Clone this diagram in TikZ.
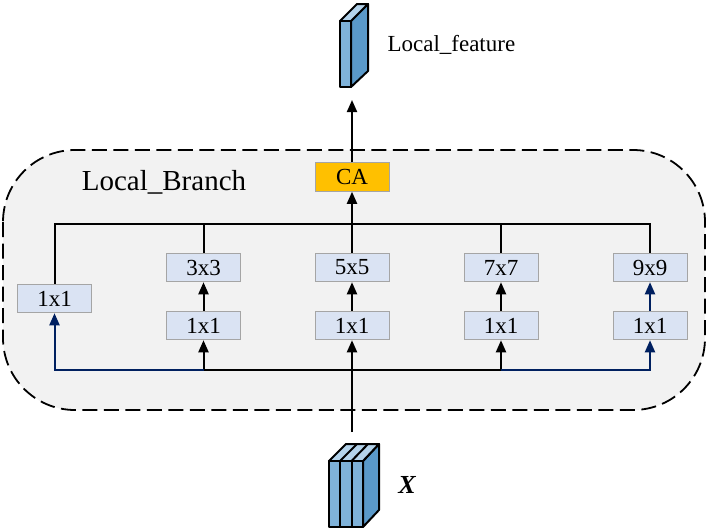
\documentclass[tikz,border=0pt]{standalone}
\usepackage{fontspec}
\setmainfont{Liberation Serif}
\usetikzlibrary{arrows.meta}
\definecolor{boxfill}{HTML}{DAE3F3}
\definecolor{boxline}{HTML}{A5A5A5}
\definecolor{panel}{HTML}{F2F2F2}
\definecolor{navyline}{HTML}{002060}
\definecolor{cafill}{HTML}{FFC000}
\definecolor{cubefront}{HTML}{7FB2D9}
\definecolor{cubeside}{HTML}{5A99C9}
\definecolor{cubetop}{HTML}{B4D3EB}
\tikzset{
  x=1pt,y=-1pt,
  conv/.style={draw=boxline,line width=1pt,fill=boxfill,minimum width=74pt,minimum height=28.5pt,inner sep=0pt,font=\fontsize{23}{23}\selectfont},
  attn/.style={conv,fill=cafill},
  wire/.style={line width=2pt,line cap=butt,line join=miter},
  flow/.style={wire,-{Triangle[length=12pt,width=10pt]}},
  navy/.style={draw=navyline},
  cube/.style={draw=black,line width=2pt,line join=round},
}
\begin{document}
\begin{tikzpicture}
\useasboundingbox (0,0) rectangle (708,530);

% dashed branch panel
\draw[fill=panel,draw=black,line width=1.8pt,dash pattern=on 15pt off 6.5pt,rounded corners=72pt]
  (3,150) rectangle (705,410);
\node[font=\fontsize{29}{29}\selectfont] (branch) at (164,182) {Local\_Branch};

% convolution blocks
\node[conv] (a1) at (54.5,298.5) {1x1};
\node[conv] (b1) at (203.5,325.5) {1x1};
\node[conv] (b2) at (203.5,267.5) {3x3};
\node[conv] (c1) at (352,325.5) {1x1};
\node[conv] (c2) at (352,267.5) {5x5};
\node[conv] (d1) at (501,325.5) {1x1};
\node[conv] (d2) at (501,267.5) {7x7};
\node[conv] (e1) at (650,325.5) {1x1};
\node[conv] (e2) at (650,267.5) {9x9};
\node[attn] (ca) at (352,177) {CA};

% bus rails
\coordinate (topL) at (54.5,224);
\coordinate (topB) at (203.5,224);
\coordinate (topD) at (501,224);
\coordinate (topE) at (650,224);
\coordinate (lowL) at (54.5,370);
\coordinate (lowB) at (203.5,370);
\coordinate (lowD) at (501,370);
\coordinate (lowE) at (650,370);
\coordinate (inlet) at (352,432);
\coordinate (outlet) at (352,100);

% upper rail
\draw[wire] (a1.north) -- (topL) -- (topE) -- (e2.north);
\draw[wire] (b2.north) -- (topB);
\draw[wire] (d2.north) -- (topD);
\draw[flow] (c2.north) -- (ca.south);

% lower rail
\draw[wire] (lowB) -- (lowD);
\draw[flow] (inlet) -- (c1.south);
\draw[flow] (lowB) -- (b1.south);
\draw[flow] (lowD) -- (d1.south);
\draw[flow,navy] (lowB) -- (lowL) -- (a1.south);
\draw[flow,navy] (lowD) -- (lowE) -- (e1.south);

% links inside each column
\draw[flow] (b1.north) -- (b2.south);
\draw[flow] (c1.north) -- (c2.south);
\draw[flow] (d1.north) -- (d2.south);
\draw[flow,navy] (e1.north) -- (e2.south);
\draw[flow] (ca.north) -- (outlet);

% output feature block
\draw[cube,fill=cubeside] (351,21) -- (368,4) -- (368,71) -- (351,87) -- cycle;
\draw[cube,fill=cubetop] (340,21) -- (357,4) -- (368,4) -- (351,21) -- cycle;
\draw[cube,fill=cubefront] (340,21) rectangle (351,87);
\node[font=\fontsize{23}{23}\selectfont,anchor=west] (outname) at (384,45) {Local\_feature};

% input feature block
\draw[cube,fill=cubeside] (363,461) -- (379,444) -- (379,510) -- (363,527) -- cycle;
\draw[cube,fill=cubetop] (329,461) -- (346,444) -- (379,444) -- (363,461) -- cycle;
\draw[cube] (340,461) -- (357,444);
\draw[cube] (351.5,461) -- (368,444);
\draw[cube,fill=cubefront] (329,461) rectangle (363,527);
\draw[cube] (340,461) -- (340,527);
\draw[cube] (351.5,461) -- (351.5,527);
\node[font=\fontsize{26}{26}\selectfont\bfseries\itshape] (inname) at (407,485) {X};
\end{tikzpicture}
\end{document}
